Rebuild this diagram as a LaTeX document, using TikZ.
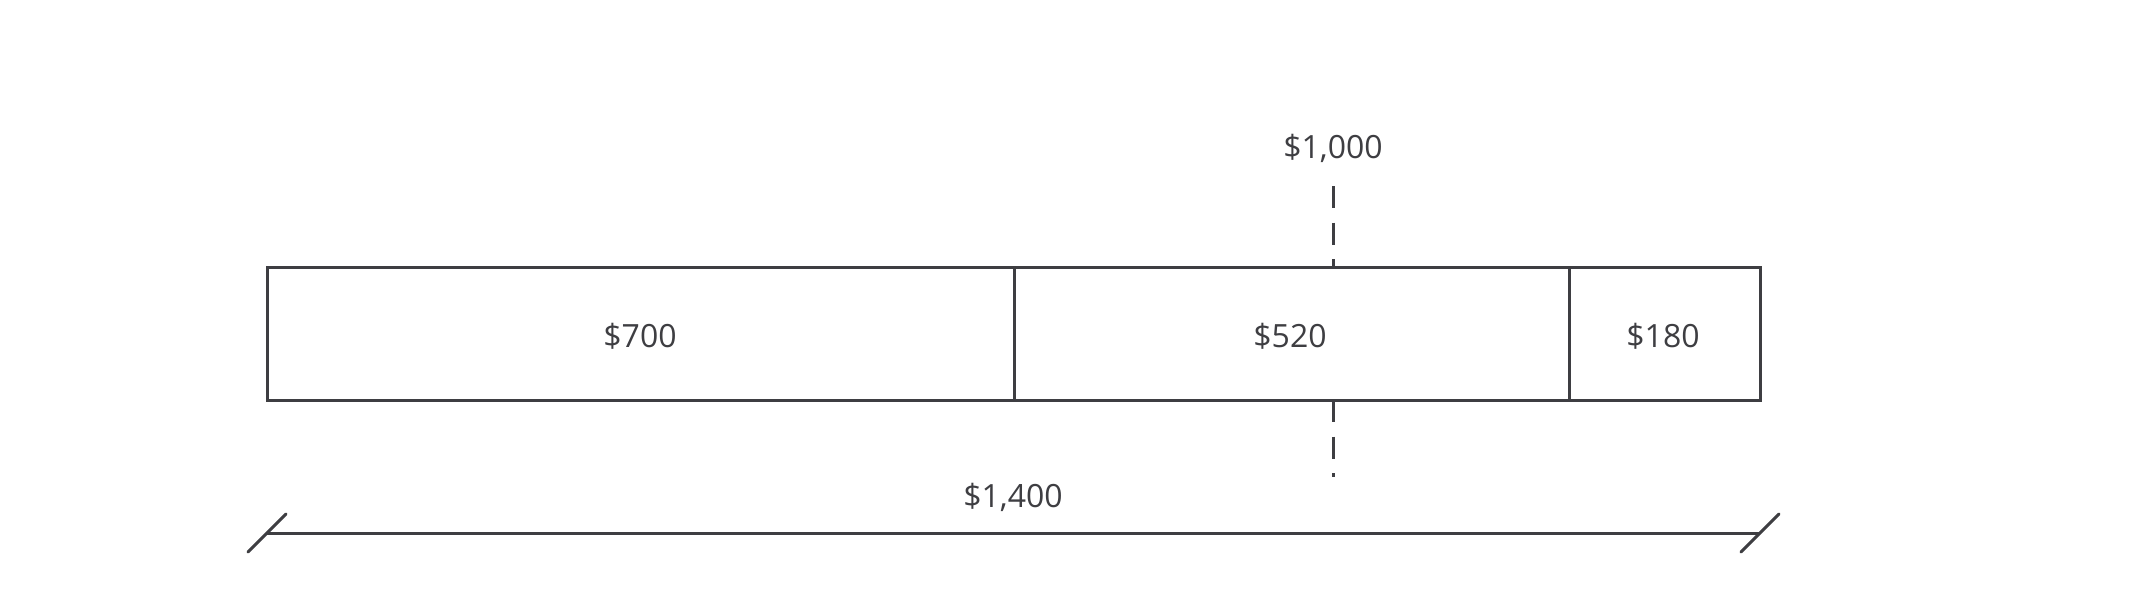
\documentclass[tikz,border=0pt]{standalone}
\usepackage{fontspec}
\setmainfont{Open Sans}
\definecolor{ink}{RGB}{62,62,66}
\begin{document}
\begin{tikzpicture}[x=1pt,y=-1pt,
  line/.style={draw=ink,line width=3pt},
  dashline/.style={draw=ink,line width=3pt,dash pattern=on 22pt off 14.5pt},
  lbl/.style={text=ink,font=\fontsize{32}{38}\selectfont,inner sep=0pt}]
\useasboundingbox (0,0) rectangle (2133,613);
% segments
\coordinate (a1) at (267,267); \coordinate (a2) at (1014,400);
\coordinate (b1) at (1014,267); \coordinate (b2) at (1569,400);
\coordinate (c1) at (1569,267); \coordinate (c2) at (1760,400);
\draw[line] (a1) rectangle (a2);
\draw[line] (b1) rectangle (b2);
\draw[line] (c1) rectangle (c2);
\node[lbl] (l700) at (640,336) {\$700};
\node[lbl] (l520) at (1290,336) {\$520};
\node[lbl] (l180) at (1663,336) {\$180};
% $1,000 marker
\node[lbl] (l1000) at (1333,148) {\$1,000};
\coordinate (m1) at (1333,186); \coordinate (m2) at (1333,267);
\coordinate (m3) at (1333,400); \coordinate (m4) at (1333,477);
\draw[dashline] (m1) -- (m2);
\draw[dashline] (m3) -- (m4);
% $1,400 dimension
\node[lbl] (l1400) at (1013,497) {\$1,400};
\coordinate (d1) at (267,533); \coordinate (d2) at (1760,533);
\draw[line] (d1) -- (d2);
\coordinate (t1a) at (248,552); \coordinate (t1b) at (286,514);
\coordinate (t2a) at (1741,552); \coordinate (t2b) at (1779,514);
\draw[line,line cap=round] (t1a) -- (t1b);
\draw[line,line cap=round] (t2a) -- (t2b);
\end{tikzpicture}
\end{document}
